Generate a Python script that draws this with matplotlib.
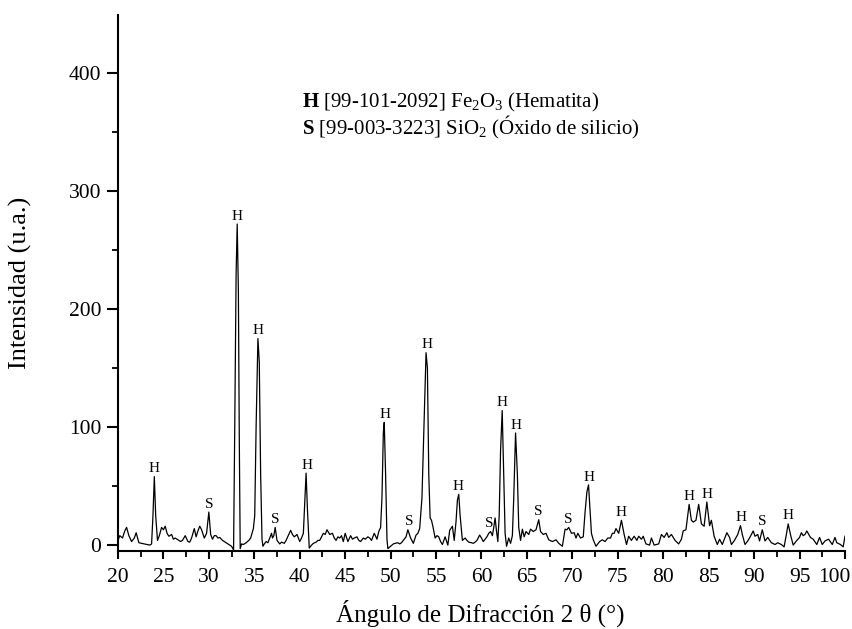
import numpy as np
import matplotlib
matplotlib.use("Agg")
import matplotlib.pyplot as plt
import matplotlib.transforms as mtransforms
from matplotlib.ticker import MultipleLocator

plt.rcParams["font.family"] = ["Liberation Serif", "DejaVu Serif"]
plt.rcParams["mathtext.fontset"] = "custom"
plt.rcParams["mathtext.rm"] = "Liberation Serif"
plt.rcParams["mathtext.bf"] = "Liberation Serif:bold"
plt.rcParams["mathtext.it"] = "Liberation Serif:italic"

# Difractograma: 2 theta (grados) e intensidad (u.a.)
two_theta = [
    20.0, 20.2, 20.5, 20.75, 20.95, 21.2, 21.5, 21.8, 22.0, 22.3, 22.6, 22.9,
    23.2, 23.5, 23.7, 23.85, 24.0, 24.15, 24.35, 24.55, 24.8, 25.0, 25.2, 25.4,
    25.6, 25.9, 26.1, 26.3, 26.6, 26.9, 27.1, 27.4, 27.7, 27.9, 28.1, 28.4,
    28.6, 28.8, 29.0, 29.2, 29.5, 29.75, 30.0, 30.2, 30.4, 30.6, 30.8, 31.0,
    31.2, 31.5, 31.7, 32.0, 32.3, 32.5, 32.72, 32.85, 33.0, 33.12, 33.25, 33.35,
    33.45, 33.6, 33.8, 34.1, 34.4, 34.6, 34.9, 35.05, 35.2, 35.4, 35.55, 35.7,
    35.85, 35.95, 36.1, 36.3, 36.5, 36.7, 36.9, 37.0, 37.15, 37.3, 37.5, 37.8,
    38.0, 38.3, 38.5, 38.8, 39.0, 39.2, 39.4, 39.7, 40.0, 40.2, 40.4, 40.55,
    40.7, 40.85, 41.05, 41.3, 41.5, 41.8, 42.0, 42.2, 42.4, 42.6, 42.8, 43.0,
    43.3, 43.6, 43.8, 44.0, 44.2, 44.4, 44.6, 44.8, 45.0, 45.3, 45.6, 45.8,
    46.0, 46.3, 46.5, 46.7, 47.0, 47.2, 47.5, 47.7, 47.9, 48.2, 48.5, 48.7,
    48.9, 49.05, 49.2, 49.3, 49.45, 49.6, 49.7, 50.0, 50.3, 50.5, 50.8, 51.0,
    51.2, 51.4, 51.7, 51.9, 52.2, 52.5, 52.8, 53.0, 53.2, 53.45, 53.7, 53.9,
    54.05, 54.2, 54.35, 54.5, 54.65, 54.9, 55.1, 55.3, 55.5, 55.7, 56.0, 56.3,
    56.5, 56.8, 57.0, 57.2, 57.35, 57.5, 57.65, 57.9, 58.2, 58.4, 58.6, 58.9,
    59.1, 59.3, 59.5, 59.8, 60.0, 60.2, 60.4, 60.6, 60.8, 61.0, 61.2, 61.35,
    61.5, 61.65, 61.8, 61.95, 62.1, 62.28, 62.45, 62.6, 62.76, 63.0, 63.2, 63.4,
    63.55, 63.75, 63.95, 64.1, 64.3, 64.5, 64.7, 64.9, 65.2, 65.4, 65.7, 66.0,
    66.3, 66.5, 66.8, 67.1, 67.4, 67.8, 68.2, 68.5, 68.9, 69.2, 69.4, 69.6,
    69.9, 70.2, 70.4, 70.6, 70.9, 71.2, 71.4, 71.6, 71.78, 71.95, 72.1, 72.3,
    72.6, 73.0, 73.3, 73.6, 73.9, 74.2, 74.4, 74.6, 74.8, 75.1, 75.4, 75.7,
    75.96, 76.2, 76.5, 76.8, 77.1, 77.3, 77.6, 77.8, 78.1, 78.5, 78.7, 79.0,
    79.5, 79.8, 80.1, 80.4, 80.6, 80.9, 81.3, 81.7, 82.0, 82.2, 82.5, 82.65,
    82.85, 83.1, 83.3, 83.6, 83.9, 84.2, 84.5, 84.8, 85.1, 85.3, 85.6, 85.95,
    86.2, 86.5, 86.8, 87.0, 87.3, 87.5, 87.8, 88.2, 88.5, 88.7, 89.0, 89.3,
    89.6, 89.9, 90.1, 90.4, 90.6, 90.9, 91.2, 91.5, 91.9, 92.3, 92.6, 93.0,
    93.3, 93.55, 93.75, 94.0, 94.3, 94.65, 95.0, 95.2, 95.4, 95.6, 95.8, 96.2,
    96.5, 96.9, 97.2, 97.5, 97.8, 98.2, 98.6, 98.9, 99.1, 99.5, 99.8, 100.0,
]
intensidad = [
    4, 8, 6, 12, 15, 8, 3, 6, 10.5, 2, 1.5, 1,
    0.5, 0, 1, 25, 58, 25, 4, 8, 15, 13, 16, 10,
    7.5, 9, 5, 6, 4.5, 3, 4, 8, 3, 2.5, 6, 14,
    7, 12, 16, 13, 6, 10, 28, 9, 5, 8, 8, 6,
    6.5, 4, 3, 1.5, 0, -1, -4, 100, 230, 272, 215, 90,
    -3, 1, 0.5, 2, 4, 6, 14, 25, 100, 175, 155, 60,
    5, -1, 1, 3, 2, 6, 10, 6, 8, 15, 4, 1,
    2.5, 1.5, 4, 9, 12.5, 9, 7, 9, 3, 6, 10, 35,
    61, 30, -2.5, 0, 1.5, 2.5, 4, 4, 7, 10, 9, 13,
    9, 10, 6, 4, 7, 6, 8, 3, 10, 3, 8, 5,
    6, 7, 4, 3, 6, 5, 7, 6, 4, 10, 5, 11.5,
    15, 40, 95, 104, 60, 5, -3, -1, 1, 1.5, 2, 1,
    2, 4, 7, 13, 6, 1.5, 8.5, 10, 14, 40, 110, 163,
    150, 60, 23, 21, 16, 6, 8, 7, 3, 0.5, 7, 0,
    12.5, 16, 4, 20, 38, 43, 25, 4, 6, 4, 2.5, 2,
    1.5, 2.5, 4, 8.5, 6, 3, 5, 7, 10, 11.5, 8, 15,
    23, 12, 3, 25, 80, 114, 60, 10, -1, 6, 1.5, 8,
    40, 95, 60, 15, 4, 13.5, 7, 11.5, 9, 13.5, 11.5, 13,
    21.5, 11.5, 9, 10, 4.5, 3, 4.5, 1.5, -1, 13.5, 13, 15,
    10, 10.5, 6, 10, 6, 7, 28, 45, 51, 30, 10, 4.5,
    -1, 3, 4.5, 3, 6, 6, 10, 10, 14, 10, 21, 9,
    0.5, 7.5, 4, 7.5, 4, 7.5, 5, 7.5, 1, 0, 6, 0,
    1, 9, 6.5, 10.5, 6.5, 9, 4, 1, 5, 12, 13, 22,
    34.5, 21, 19.5, 21, 34.5, 18, 16, 36.5, 16.5, 21, 7.5, 0.5,
    5, 0.5, 6.5, 10.5, 6.5, 0.5, 3.5, 9, 16.5, 9, 0.5, 3.5,
    7.5, 12, 7.5, 9, 3.5, 13, 3.5, 6.5, 2, 0.5, 2, 0.5,
    -1.5, 9, 18, 9, 0, 3.5, 6.5, 10.5, 8, 9, 12, 6.5,
    5, 0.5, 6.5, 0.5, 3.5, 5, 0.5, 6.5, 2, 0.5, -1.5, 7.5,
]

# Asignación de picos: fase y posición 2 theta
fase_pico = ["H", "S", "H", "H", "S", "H", "H", "S", "H", "H", "S",
             "H", "H", "S", "S", "H", "H", "H", "H", "H", "S", "H"]
pos_pico = [24.0, 30.05, 33.12, 35.45, 37.35, 40.8, 49.35, 52.0, 54.0, 57.45,
            60.9, 62.3, 63.85, 66.3, 69.6, 71.85, 75.4, 82.8, 84.85, 88.55,
            90.85, 93.75]

leyenda = [
    r"$\mathbf{H}$ [99-101-2092] Fe$_2$O$_3$ (Hematita)",
    r"$\mathbf{S}$ [99-003-3223] SiO$_2$ (Óxido de silicio)",
]

x = np.array(two_theta)
y = np.array(intensidad)

fig = plt.figure(figsize=(8.53, 6.29), dpi=100)
ax = fig.add_axes([0.1383, 0.124, 0.8523, 0.852])

ax.plot(x, y, color="black", lw=0.9)

for fase, p in zip(fase_pico, pos_pico):
    sel = np.abs(x - p) <= 0.35
    ytop = y[sel].max()
    ax.annotate(fase, (p, ytop), xytext=(0, 1), textcoords="offset points",
                ha="center", va="bottom", fontsize=11)

for i, linea in enumerate(leyenda):
    ax.text(0.2527, 0.828 - 0.05 * i, linea, transform=ax.transAxes,
            fontsize=15, va="baseline", ha="left")

ax.set_xlim(20, 100)
ax.set_ylim(-5, 449)
ax.xaxis.set_major_locator(MultipleLocator(5))
ax.xaxis.set_minor_locator(MultipleLocator(2.5))
ax.yaxis.set_major_locator(MultipleLocator(100))
ax.yaxis.set_minor_locator(MultipleLocator(50))

for s in ["top", "right"]:
    ax.spines[s].set_visible(False)
for s in ["left", "bottom"]:
    ax.spines[s].set_linewidth(1.5)

ax.tick_params(which="both", direction="out", labelsize=15.5)
ax.tick_params(axis="x", which="major", length=5.5, width=1.5, pad=7)
ax.tick_params(axis="x", which="minor", length=4, width=1.3)
ax.tick_params(axis="y", which="major", length=8, width=1.5, pad=4)
ax.tick_params(axis="y", which="minor", length=4, width=1.3)

ax.set_xlabel("Ángulo de Difracción 2 θ (°)", fontsize=18)
ax.set_ylabel("Intensidad (u.a.)", fontsize=19)
ax.xaxis.set_label_coords(0.499, -0.09)
ax.yaxis.set_label_coords(-0.118, 0.5)

# la etiqueta 100 queda en el borde: se corre un poco a la izquierda
fig.canvas.draw()
for lab in ax.xaxis.get_majorticklabels():
    if lab.get_text() == "100":
        lab.set_transform(lab.get_transform() +
                          mtransforms.ScaledTranslation(-8 / 72, 0, fig.dpi_scale_trans))

fig.savefig("out.png", dpi=100)
